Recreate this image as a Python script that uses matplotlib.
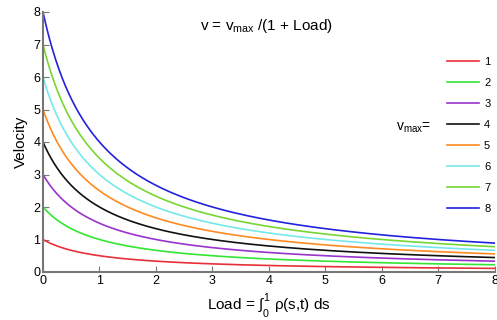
import numpy as np
import matplotlib
matplotlib.use("Agg")
import matplotlib.pyplot as plt

plt.rcParams['font.family'] = ['Liberation Sans', 'DejaVu Sans']
plt.rcParams['mathtext.fontset'] = 'custom'
plt.rcParams['mathtext.rm'] = 'Liberation Sans'
plt.rcParams['mathtext.it'] = 'Liberation Sans'

vmax_values = [1, 2, 3, 4, 5, 6, 7, 8]
colors = ['#e8303a', '#33e633', '#9933cc', '#111111', '#ff8a22', '#77e8e8', '#77d633', '#2222dd']
load = np.linspace(0, 8, 400)

fig = plt.figure(figsize=(4.97, 3.2), dpi=100)
ax = fig.add_axes([0.0865, 0.15, 0.909, 0.8125])

lines = []
for vm, c in zip(vmax_values, colors):
    ln, = ax.plot(load, vm / (1 + load), color=c, lw=1.2, label=str(vm))
    lines.append(ln)

ax.set_xlim(0, 8)
ax.set_ylim(0, 8)
ax.set_xticks(range(0, 9))
ax.set_yticks(range(0, 9))
for s in ['top', 'right']:
    ax.spines[s].set_visible(False)
for s in ['left', 'bottom']:
    ax.spines[s].set_color('#777777')
    ax.spines[s].set_linewidth(1.5)
ax.tick_params(direction='in', length=4, color='#777777', labelsize=9, pad=2)

ax.set_xlabel(r'Load = $\int_0^1$ $\rho$(s,t) ds', fontsize=11, labelpad=3)
ax.set_ylabel('Velocity', fontsize=11, labelpad=4)
ax.text(0.495, 0.945, r'v = v$_{\mathrm{max}}$ /(1 + Load)', transform=ax.transAxes,
        ha='center', va='center', fontsize=11)

leg = ax.legend(handles=lines, loc='upper right', bbox_to_anchor=(1.0, 0.845),
                frameon=False, fontsize=8, handlelength=2.8, labelspacing=0.99,
                handletextpad=0.5, borderaxespad=0)
ax.text(0.82, 0.555, r'v$_{\mathrm{max}}$=', transform=ax.transAxes,
        ha='center', va='center', fontsize=10)

fig.savefig('out.png', dpi=100)
